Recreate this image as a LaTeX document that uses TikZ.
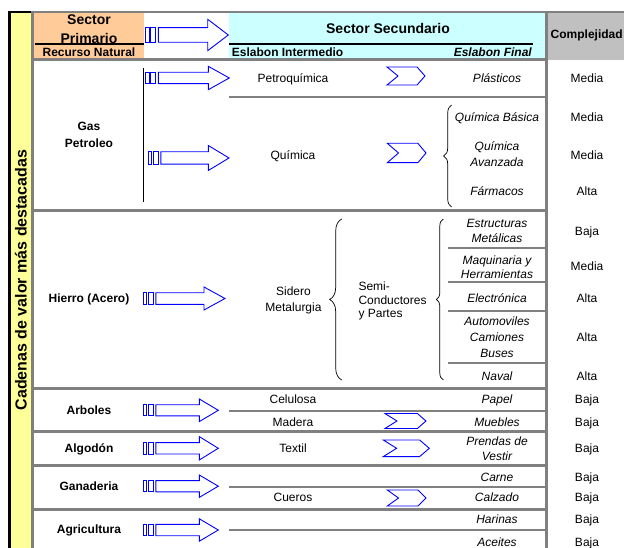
\documentclass[tikz,border=0pt]{standalone}
\usepackage{fontspec}
\setmainfont{Liberation Sans}
\usepackage{tikz}
\usetikzlibrary{decorations.pathreplacing}
\definecolor{BarYellow}{HTML}{FFFF99}
\definecolor{PrimOrange}{HTML}{FFCC99}
\definecolor{SecCyan}{HTML}{CCFFFF}
\definecolor{CellGray}{HTML}{C0C0C0}
\definecolor{RuleGray}{HTML}{808080}
\definecolor{ArrBlue}{HTML}{0000FF}
% block arrow: start, head base, tip, mid y, head half, body half
\newcommand{\blockarr}[6]{%
  \draw[arrline] (#1,{#4-#6}) rectangle ({#1+3.3},{#4+#6});
  \draw[arrline] ({#1+5},{#4-#6}) rectangle ({#1+10},{#4+#6});
  \draw[arrline] ({#1+12.6},{#4-#6}) -- (#2,{#4-#6}) -- (#2,{#4-#5}) -- (#3,#4)
    -- (#2,{#4+#5}) -- (#2,{#4+#6}) -- ({#1+12.6},{#4+#6}) -- cycle;}
% chevron: left x, right x, mid y, half height
\newcommand{\chevarr}[4]{%
  \draw[arrline] (#1,{#3-#4}) -- ({#1+0.79*(#2-#1)},{#3-#4}) -- (#2,#3)
    -- ({#1+0.79*(#2-#1)},{#3+#4}) -- (#1,{#3+#4}) -- ({#1+0.29*(#2-#1)},#3) -- cycle;}
\begin{document}
\begin{tikzpicture}[x=1pt,y=-1pt,
    arrline/.style={ArrBlue,line width=0.9pt,fill=white,line join=miter},
    rule/.style={RuleGray,line width=3pt},
    thinrule/.style={RuleGray,line width=2pt},
    brc/.style={decorate,decoration={brace,amplitude=#1},line width=0.7pt},
    txt/.style={font=\fontsize{12}{16}\selectfont,text height=8.6pt,text depth=0pt,inner sep=0pt,align=center},
    bld/.style={txt,font=\bfseries\fontsize{12}{16}\selectfont},
    itl/.style={txt,font=\itshape\fontsize{12}{16}\selectfont},
    hd/.style={font=\bfseries\fontsize{14}{19}\selectfont,text height=10pt,text depth=0pt,inner sep=0pt,align=center}]
  \useasboundingbox (0,0) rectangle (624,548);
  % fills
  \fill[BarYellow] (11,13) rectangle (31,548);
  \fill[PrimOrange] (34,13) rectangle (143.5,58);
  \fill[SecCyan] (229,13) rectangle (545,58);
  \fill[CellGray] (548,11) rectangle (624,60);
  % frame
  \draw[black,line width=3pt] (9.5,11) -- (9.5,548);
  \draw[black,line width=2pt] (8,12) -- (31,12);
  \draw[thinrule] (31,12) -- (624,12);
  \draw[rule] (32.5,11) -- (32.5,548);
  \draw[rule] (546.5,11) -- (546.5,548);
  \draw[black,line width=2pt] (35,44) -- (143.5,44);
  \draw[black,line width=2pt] (229,44) -- (533,44);
  % rows
  \foreach \yy in {59.5,210.5,388,431.7,465,509}
    \draw[rule] (31,\yy) -- (548,\yy);
  \foreach \yy in {97,410.5,487,530}
    \draw[thinrule] (229,\yy) -- (546,\yy);
  \foreach \yy in {248.5,282.2,310.5,362.8}
    \draw[thinrule] (448,\yy) -- (546,\yy);
  \draw[line width=0.8pt] (143.3,68) -- (143.3,202);
  \draw[brc=8] (451.7,207) -- (451.7,105);
  \draw[brc=12] (341.7,380) -- (341.7,219);
  \draw[brc=7] (443.3,380) -- (443.3,219);
  % arrows
  \blockarr{145.7}{207.7}{228.3}{35}{15.7}{7.3}
  \blockarr{145.7}{208.3}{229.3}{78}{11.7}{5.7}
  \blockarr{148.3}{208.3}{229}{158}{12.5}{6.2}
  \blockarr{143.3}{204}{225}{298.5}{11.5}{5.8}
  \blockarr{143.3}{199.3}{218.3}{410.3}{11.3}{5.6}
  \blockarr{143.3}{199.3}{218.3}{448.3}{11.7}{5.7}
  \blockarr{143.3}{199.3}{218.3}{486.2}{11.2}{5.6}
  \blockarr{143.3}{199.3}{218.3}{530}{11.2}{5.7}
  \chevarr{387}{425}{76}{9}
  \chevarr{387.3}{426}{153}{9.7}
  \chevarr{385}{426}{421}{7.5}
  \chevarr{383.3}{429.3}{448.3}{8.3}
  \chevarr{387.3}{426}{498}{8}
  % header (multi-line nodes sit on their last line)
  \node[hd] (sprim) at (89,38.3) {Sector\\Primario};
  \node[bld] (recnat) at (89,52) {Recurso Natural};
  \node[hd] (ssec) at (388,29) {Sector Secundario};
  \node[bld,anchor=west] (eslint) at (231.7,52) {Eslabon Intermedio};
  \node[txt,font=\bfseries\itshape\fontsize{12}{16}\selectfont,anchor=east] (eslfin) at (532,52) {Eslabon Final};
  \node[bld,anchor=west] (compl) at (550.5,34) {Complejidad};
  \node[rotate=90,font=\bfseries\fontsize{16}{19}\selectfont,text height=11.5pt,text depth=0pt,inner sep=0pt] (cadenas) at (21,280) {Cadenas de valor más destacadas};
  % gas y petroleo
  \node[bld,font=\bfseries\fontsize{12}{16.7}\selectfont] (gaspet) at (89,143.3) {Gas\\Petroleo};
  \node[txt] (petroq) at (293,78) {Petroquímica};
  \node[txt] (quimica) at (293,155) {Química};
  \node[itl] (plast) at (497,78) {Plásticos};
  \node[itl] (qbasica) at (497,117) {Química Básica};
  \node[itl] (qavanz) at (497,162.7) {Química\\Avanzada};
  \node[itl] (farmacos) at (497,191.7) {Fármacos};
  \node[txt] (cplast) at (587,78) {Media};
  \node[txt] (cqbasica) at (587,117) {Media};
  \node[txt] (cqavanz) at (587,155) {Media};
  \node[txt] (cfarmacos) at (587,191.7) {Alta};
  % hierro
  \node[bld] (hierro) at (89,298.3) {Hierro (Acero)};
  \node[txt] (sidero) at (293.5,306.7) {Sidero\\Metalurgia};
  \node[txt,font=\fontsize{12}{13.5}\selectfont,align=left,anchor=west] (semicond) at (358.3,313.3) {Semi-\\Conductores\\y Partes};
  \node[itl,font=\itshape\fontsize{12}{15}\selectfont] (estruct) at (497,238) {Estructuras\\Metálicas};
  \node[itl,font=\itshape\fontsize{12}{14}\selectfont] (maquin) at (497,274) {Maquinaria y\\Herramientas};
  \node[itl] (electro) at (497,298.3) {Electrónica};
  \node[itl] (automov) at (497,352.7) {Automoviles\\Camiones\\Buses};
  \node[itl] (naval) at (497,376) {Naval};
  \node[txt] (cestruct) at (587,231) {Baja};
  \node[txt] (cmaquin) at (587,266) {Media};
  \node[txt] (celectro) at (587,298.3) {Alta};
  \node[txt] (cautomov) at (587,336.7) {Alta};
  \node[txt] (cnaval) at (587,376) {Alta};
  % arboles
  \node[bld] (arboles) at (89,410) {Arboles};
  \node[txt] (celulosa) at (293,399.3) {Celulosa};
  \node[txt] (madera) at (293,421.7) {Madera};
  \node[itl] (papel) at (497,399.5) {Papel};
  \node[itl] (muebles) at (497,421.7) {Muebles};
  \node[txt] (cpapel) at (587,399.5) {Baja};
  \node[txt] (cmuebles) at (587,421.7) {Baja};
  % algodon
  \node[bld] (algodon) at (89,448.3) {Algodón};
  \node[txt] (textil) at (293,448.3) {Textil};
  \node[itl,font=\itshape\fontsize{12}{15}\selectfont] (prendas) at (497,456) {Prendas de\\Vestir};
  \node[txt] (cprendas) at (587,448.5) {Baja};
  % ganaderia
  \node[bld] (ganaderia) at (89,486) {Ganaderia};
  \node[txt] (cueros) at (293,497.3) {Cueros};
  \node[itl] (carne) at (497,476.7) {Carne};
  \node[itl] (calzado) at (497,497.3) {Calzado};
  \node[txt] (ccarne) at (587,476.7) {Baja};
  \node[txt] (ccalzado) at (587,497.3) {Baja};
  % agricultura
  \node[bld] (agricult) at (89,529.5) {Agricultura};
  \node[itl] (harinas) at (497,519.3) {Harinas};
  \node[itl] (aceites) at (497,541.7) {Aceites};
  \node[txt] (charinas) at (587,519.3) {Baja};
  \node[txt] (caceites) at (587,541.7) {Baja};
\end{tikzpicture}
\end{document}
